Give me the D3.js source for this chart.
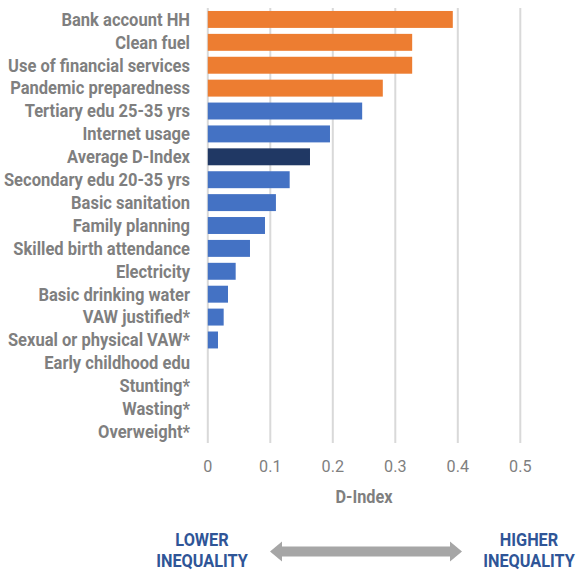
<!DOCTYPE html>
<html><head><meta charset="utf-8">
<script src="https://cdn.jsdelivr.net/npm/d3@7"></script>
<style>body{margin:0;background:#fff;}svg{display:block;}</style>
</head><body>
<script>
const categories = ["Bank account HH","Clean fuel","Use of financial services","Pandemic preparedness","Tertiary edu 25-35 yrs","Internet usage","Average D-Index","Secondary edu 20-35 yrs","Basic sanitation","Family planning","Skilled birth attendance","Electricity","Basic drinking water","VAW justified*","Sexual or physical VAW*","Early childhood edu","Stunting*","Wasting*","Overweight*"];
const values = [0.392,0.327,0.327,0.280,0.247,0.1955,0.1635,0.131,0.109,0.0915,0.0675,0.0446,0.0323,0.0254,0.0163,0,0,0,0];
const groups = ["high","high","high","high","low","low","avg","low","low","low","low","low","low","low","low","low","low","low","low"];
const xTicks = [0,0.1,0.2,0.3,0.4,0.5];
const xTickLabels = ["0","0.1","0.2","0.3","0.4","0.5"];
const colors = {high:"#ED7D31", low:"#4472C4", avg:"#203864"};

const W=576,H=571;
const svg=d3.select("body").append("svg").attr("width",W).attr("height",H);
const x=d3.scaleLinear().domain([0,0.5]).range([207.8,520.3]);
const y=d3.scaleBand().domain(categories).range([8,443]).paddingInner(0.26).paddingOuter(0.13);
const font="Roboto, 'Noto Sans', sans-serif";

// gridlines
svg.append("g").selectAll("line").data(xTicks).join("line")
  .attr("x1",d=>x(d)).attr("x2",d=>x(d)).attr("y1",8).attr("y2",443)
  .attr("stroke","#d9d9d9").attr("stroke-width",2);

// bars
svg.append("g").selectAll("rect").data(categories).join("rect")
  .attr("x",x(0)).attr("y",d=>y(d)).attr("height",y.bandwidth())
  .attr("width",(d,i)=>x(values[i])-x(0))
  .attr("fill",(d,i)=>colors[groups[i]]);

// category labels
svg.append("g").selectAll("text").data(categories).join("text")
  .attr("transform",d=>`translate(190,${y(d)+y.bandwidth()/2}) scale(0.894,1)`)
  .attr("text-anchor","end").attr("dominant-baseline","central")
  .attr("font-family",font).attr("font-weight","bold").attr("font-size",18.5)
  .attr("fill","#7f7f7f").text(d=>d);

// x tick labels
svg.append("g").selectAll("text").data(xTicks).join("text")
  .attr("transform",d=>`translate(${x(d)},466) scale(0.95,1)`)
  .attr("text-anchor","middle").attr("dominant-baseline","central")
  .attr("font-family",font).attr("font-size",17).attr("fill","#7f7f7f")
  .text((d,i)=>xTickLabels[i]);

// axis title
svg.append("text").attr("transform","translate(364,497) scale(0.88,1)")
  .attr("text-anchor","middle").attr("dominant-baseline","central")
  .attr("font-family",font).attr("font-weight","bold").attr("font-size",18.5)
  .attr("fill","#7f7f7f").text("D-Index");

// inequality labels
function twoLine(cx,lines){
  lines.forEach((t,i)=>{
    svg.append("text").attr("transform",`translate(${cx},${540+i*21}) scale(0.88,1)`)
      .attr("text-anchor","middle").attr("dominant-baseline","central")
      .attr("font-family",font).attr("font-weight","bold").attr("font-size",18.5)
      .attr("fill","#2F5597").text(t);
  });
}
twoLine(202,["LOWER","INEQUALITY"]);
twoLine(529,["HIGHER","INEQUALITY"]);

// double arrow
const ax1=270, ax2=462, ay=551.5;
svg.append("path")
  .attr("d",`M${ax1},${ay} L${ax1+12},${ay-10} L${ax1+12},${ay-5} L${ax2-12},${ay-5} L${ax2-12},${ay-10} L${ax2},${ay} L${ax2-12},${ay+10} L${ax2-12},${ay+5} L${ax1+12},${ay+5} L${ax1+12},${ay+10} Z`)
  .attr("fill","#a6a6a6");
</script>
</body></html>
